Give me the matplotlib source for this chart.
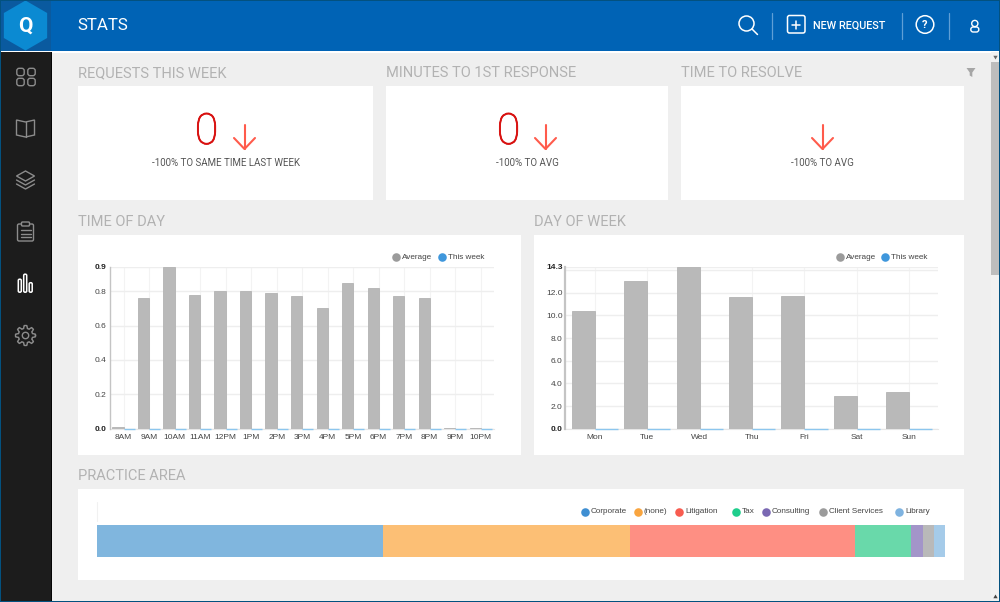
#!/usr/bin/env python3
"""Stats dashboard: KPI cards, two grouped bar charts and a stacked practice area bar."""

import matplotlib

matplotlib.use("Agg")

import matplotlib.patheffects as pe
import matplotlib.pyplot as plt
import numpy as np
from matplotlib.patches import Circle, FancyBboxPatch, Polygon, Rectangle, RegularPolygon

W, H = 1000, 602

HOURS = ["8AM", "9AM", "10AM", "11AM", "12PM", "1PM", "2PM", "3PM", "4PM", "5PM", "6PM", "7PM", "8PM", "9PM", "10PM"]
HOUR_AVG = [0.01, 0.76, 0.943, 0.78, 0.80, 0.80, 0.79, 0.77, 0.70, 0.85, 0.82, 0.77, 0.76, 0.002, 0.002]
HOUR_WEEK = [0] * 15
HOUR_TICKS = [0.0, 0.2, 0.4, 0.6, 0.8, 0.943]
HOUR_TICK_LABELS = ["0.0", "0.2", "0.4", "0.6", "0.8", "0.9"]

DAYS = ["Mon", "Tue", "Wed", "Thu", "Fri", "Sat", "Sun"]
DAY_AVG = [10.4, 13.0, 14.3, 11.6, 11.7, 2.9, 3.25]
DAY_WEEK = [0] * 7
DAY_TICKS = [0, 2, 4, 6, 8, 10, 12, 14, 14.3]
DAY_TICK_LABELS = ["0.0", "2.0", "4.0", "6.0", "8.0", "10.0", "12.0", "", "14.3"]

AREAS = ["Corporate", "(none)", "Litigation", "Tax", "Consulting", "Client Services", "Library"]
AREA_SHARE = [33.8, 29.1, 26.5, 6.6, 1.5, 1.3, 1.2]
AREA_DOT = ["#3f8fd2", "#f9a53f", "#f85c50", "#1fce8c", "#7a68b3", "#9b9b9b", "#7fb3e0"]
AREA_FILL = ["#80b6de", "#fcbf75", "#fe8f83", "#69d9aa", "#a395c9", "#b9b9b9", "#a5cbe9"]
AREA_LEGEND_X = [585, 638, 679.3, 736.3, 766, 823, 899]

GREY_BAR = "#b9b9b9"
GREY_EDGE = "#b3b3b3"
BLUE_LINE = "#8cc6ee"
BLUE_TOP = "#0063b5"
RED_ARROW = "#ff5b4c"
HEAD_GREY = "#b2b2b2"
ICON = "#8c8c8c"
TEXT = "#444444"

plt.rcParams["font.family"] = ["Roboto", "DejaVu Sans"]

fig = plt.figure(figsize=(W / 100, H / 100), dpi=100)
bg = fig.add_axes([0, 0, 1, 1])
bg.set_xlim(0, W)
bg.set_ylim(H, 0)
bg.axis("off")


def box(x0, y0, x1, y1, color, z=1):
    bg.add_patch(Rectangle((x0, y0), x1 - x0, y1 - y0, fc=color, ec="none", zorder=z))


def line(xs, ys, color, lw=1.0, z=4):
    bg.plot(xs, ys, color=color, lw=lw, zorder=z, solid_capstyle="round", solid_joinstyle="round")


def rounded(x0, y0, w, h, r, ec, lw=1.0, fc="none", z=4):
    bg.add_patch(FancyBboxPatch((x0, y0), w, h, boxstyle=f"round,pad=0,rounding_size={r}", fc=fc, ec=ec, lw=lw, zorder=z))


def arrow(x, y0, y1):
    line([x, x], [y0, y1], RED_ARROW, 1.5)
    line([x - 10.5, x, x + 10.5], [y1 - 11, y1, y1 - 11], RED_ARROW, 1.5)


def chart_axes(x0, y0, x1, y1):
    return fig.add_axes([x0 / W, 1 - y1 / H, (x1 - x0) / W, (y1 - y0) / H], zorder=5)


def grouped_bars(ax, labels, avg, week, ticks, tick_labels, xlim, spine_lw):
    x = np.arange(len(labels))
    w = 0.44
    ax.bar(x - w / 2, avg, w, color=GREY_BAR, edgecolor=GREY_EDGE, linewidth=0.6, zorder=3)
    ax.bar(x + w / 2, week, w, color=BLUE_LINE, edgecolor=BLUE_LINE, linewidth=1.0, zorder=4, clip_on=False)
    ax.set_xlim(*xlim)
    ax.set_ylim(0, max(ticks))
    ax.set_xticks(x, labels)
    ax.set_yticks(ticks, tick_labels)
    ax.grid(axis="y", color="#eeeeee", lw=1.0, zorder=0)
    ax.grid(axis="x", color="#f3f3f3", lw=0.8, zorder=0)
    ax.tick_params(axis="both", length=0, labelsize=6.0, labelcolor=TEXT, pad=4)
    ax.tick_params(axis="y", pad=2)
    for lab in ax.get_xticklabels() + ax.get_yticklabels():
        lab.set_family(["Liberation Sans", "DejaVu Sans"])
    for lab in (ax.get_yticklabels()[0], ax.get_yticklabels()[-1]):
        lab.set_fontweight("bold")
        lab.set_color("#222222")
    for side in ("top", "right"):
        ax.spines[side].set_visible(False)
    ax.spines["bottom"].set_color("#e6e6e6")
    ax.spines["bottom"].set_zorder(2)
    ax.spines["left"].set_color("#c4c4c4")
    ax.spines["left"].set_linewidth(spine_lw)
    ax.patch.set_alpha(0)


def legend_item(x, y, label, color):
    bg.scatter([x], [y], s=38, color=color, linewidths=0, zorder=6)
    bg.text(x + 5.9, y, label, fontsize=5.9, color=TEXT, va="center", ha="left", family=["Liberation Sans", "DejaVu Sans"], zorder=6)


# page chrome
box(0, 0, W, H, "#efefef", 0)
box(0, 0, W, 51, BLUE_TOP)
box(0, 51, W, 52.5, "#ffffff")
box(0, 0, 51, 51, "#0a5a9f", 2)
box(0, 52, 51, H, "#1c1c1c")
box(50.5, 52, 51.5, H, "#050505", 2)
bg.add_patch(RegularPolygon((25.5, 25.5), 6, radius=25, fc="#0b8ad2", ec="none", zorder=3))
bg.text(25.5, 26, "Q", color="white", fontsize=15, fontweight="bold", ha="center", va="center", zorder=4)
box(991, 52, W, H, "#f1f1f1", 2)
box(991, 62, W, 275, "#bdbdbd", 3)
bg.add_patch(RegularPolygon((995.5, 57), 3, radius=2.5, fc="#666666", ec="none", zorder=3))
bg.add_patch(RegularPolygon((995.5, 597), 3, radius=2.5, orientation=np.pi, fc="#444444", ec="none", zorder=3))
for rect in ((0, 0, W, 1), (0, H - 1, W, H), (0, 0, 1, H), (W - 1, 0, W, H)):
    box(*rect, "#03517f", 9)

# header
bg.text(77, 26, "STATS", color="white", fontsize=12.2, va="center", ha="left", zorder=4)
bg.add_patch(Circle((746.5, 23.5), 7.5, fc="none", ec="white", lw=1.1, zorder=4))
line([752, 757.5], [29, 34.5], "white", 1.1)
for x in (771.5, 901.5, 949):
    line([x, x], [13, 39], "#5f9fd6", 0.9)
rounded(787.5, 15.5, 17.5, 17.5, 2, "white", 1.1)
line([796.3, 796.3], [20.5, 28.5], "white", 1.1)
line([792.3, 800.3], [24.5, 24.5], "white", 1.1)
bg.text(813, 26, "NEW REQUEST", color="white", fontsize=7.8, fontweight="medium", va="center", ha="left", zorder=4)
bg.add_patch(Circle((925, 24.5), 8.8, fc="none", ec="white", lw=1.1, zorder=4))
bg.text(925, 24.5, "?", color="white", fontsize=8, fontweight="bold", ha="center", va="center", zorder=4)
bg.add_patch(Circle((974.8, 23.5), 3.1, fc="none", ec="white", lw=1.0, zorder=4))
rounded(970.8, 27, 8, 5, 2.4, "white", 1.0)

# sidebar icons
for cx, cy in ((20.5, 72), (31.5, 72), (20.5, 82), (31.5, 82)):
    rounded(cx - 3.7, cy - 3.7, 7.4, 7.4, 2.4, ICON, 1.0)
bg.add_patch(Polygon([(16.5, 120), (25.5, 122), (34.5, 120), (34.5, 135), (25.5, 137), (16.5, 135)], closed=True, fc="none", ec=ICON, lw=1.0, zorder=4))
line([25.5, 25.5], [122, 137], ICON, 1.0)
bg.add_patch(Polygon([(16.5, 176), (25.5, 171), (34.5, 176), (25.5, 181)], closed=True, fc="none", ec=ICON, lw=1.0, zorder=4))
line([16.5, 25.5, 34.5], [180, 185, 180], ICON, 1.0)
line([16.5, 25.5, 34.5], [184, 189, 184], ICON, 1.0)
rounded(17.5, 224, 16, 17, 1.5, ICON, 1.0)
rounded(21.5, 222, 8, 4, 1, ICON, 1.0, fc="#1c1c1c", z=5)
for y in (230, 233.5, 237):
    line([20.5, 30.5], [y, y], ICON, 1.0)
for x0, h in ((18.3, 13), (23.7, 18), (29.2, 9.5)):
    rounded(x0, 292.2 - h, 3, h, 1.3, "white", 1.1, fc="#1c1c1c")
t = np.linspace(0, 2 * np.pi, 97)
gear_r = 8.6 + 1.4 * np.clip(2.0 * np.cos(8 * t), -1, 1)
bg.plot(25.5 + gear_r * np.cos(t), 335.5 + gear_r * np.sin(t), color=ICON, lw=1.0, zorder=4)
bg.add_patch(Circle((25.5, 335.5), 3.2, fc="none", ec=ICON, lw=1.0, zorder=4))

# section headings and cards
for x0, y0, x1, y1 in ((78, 86, 373, 200), (386, 86, 668, 200), (681, 86, 964, 200), (77.5, 235, 521, 455), (533.5, 235, 964, 455), (77.5, 489, 964, 580)):
    box(x0, y0, x1, y1, "white", 1)
for x, y, label in (
    (78, 73, "REQUESTS THIS WEEK"),
    (386, 73, "MINUTES TO 1ST RESPONSE"),
    (681, 73, "TIME TO RESOLVE"),
    (78, 221.5, "TIME OF DAY"),
    (534, 221.5, "DAY OF WEEK"),
    (78, 476.5, "PRACTICE AREA"),
):
    bg.text(x, y, label, color=HEAD_GREY, fontsize=10.55, va="center", ha="left", zorder=4)
bg.add_patch(Polygon([(966.5, 68), (975.5, 68), (972.3, 72.5), (972.3, 77), (969.7, 75.5), (969.7, 72.5)], closed=True, fc="#a6a6a6", ec="none", zorder=4))

# KPI cards
for x in (206.5, 508.5):
    bg.text(x, 132.5, "0", color="#d8100f", fontsize=31, fontweight="light", ha="center", va="center", zorder=4,
            path_effects=[pe.withStroke(linewidth=0.6, foreground="#d8100f")])
arrow(244.5, 125, 149)
arrow(545.5, 125, 149)
arrow(822.5, 125, 149)
for x, label in ((225.5, "-100% TO SAME TIME LAST WEEK"), (527, "-100% TO AVG"), (822, "-100% TO AVG")):
    bg.text(x, 163, label, color="#555555", fontsize=7.0, ha="center", va="center", zorder=4)

# time of day
ax_hour = chart_axes(109.5, 266.7, 494, 428.7)
grouped_bars(ax_hour, HOURS, HOUR_AVG, HOUR_WEEK, HOUR_TICKS, HOUR_TICK_LABELS, (-0.557, 14.52), 1.0)
legend_item(396, 257.3, "Average", "#9b9b9b")
legend_item(441.7, 257.3, "This week", "#3f97dc")

# day of week
ax_day = chart_axes(565.3, 266.7, 938, 428.7)
grouped_bars(ax_day, DAYS, DAY_AVG, DAY_WEEK, DAY_TICKS, DAY_TICK_LABELS, (-0.56, 6.545), 1.6)
legend_item(839.7, 257.3, "Average", "#9b9b9b")
legend_item(885, 257.3, "This week", "#3f97dc")

# practice area
ax_area = chart_axes(96.5, 525.3, 944.5, 556.7)
left = 0.0
for share, fill in zip(AREA_SHARE, AREA_FILL):
    ax_area.barh(0, share, 1.0, left=left, color=fill, linewidth=0)
    left += share
ax_area.set_xlim(0, sum(AREA_SHARE))
ax_area.set_ylim(-0.5, 0.5)
ax_area.axis("off")
line([96.8, 96.8], [502, 521], "#f1f1f1", 0.8)
for x, label, dot in zip(AREA_LEGEND_X, AREAS, AREA_DOT):
    legend_item(x, 511.7, label, dot)

fig.savefig("out.png", dpi=100)
